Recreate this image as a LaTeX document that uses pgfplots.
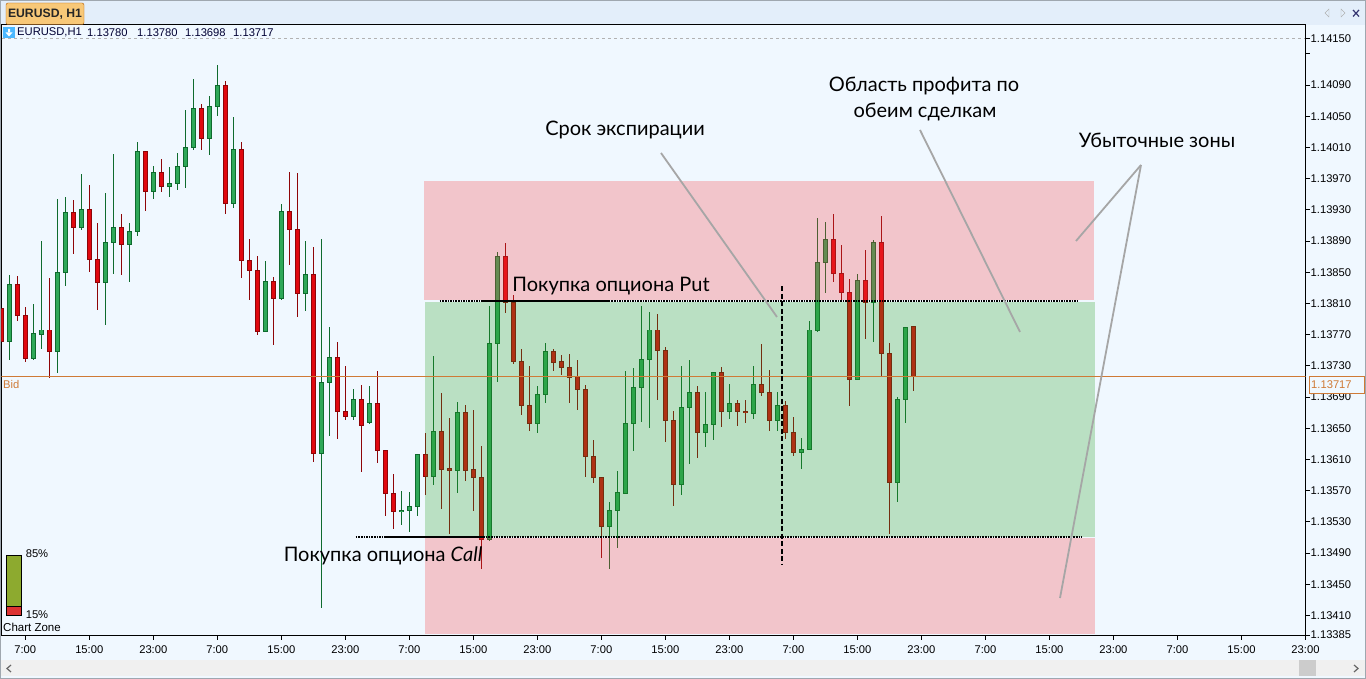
\documentclass[border=0pt]{standalone}
\usepackage{pgfplots}
\usepackage{pgfplotstable}
\usepackage{fontspec}
\pgfplotsset{compat=1.18}
\setmainfont{Liberation Sans}
\newfontfamily\notefont{Lato}
\definecolor{chartbg}{HTML}{F0F8FF}
\definecolor{chrome}{HTML}{E3EEFA}
\definecolor{gfill}{HTML}{2EA858}
\definecolor{gdark}{HTML}{0F6B2E}
\definecolor{rfill}{HTML}{E0080F}
\definecolor{rdark}{HTML}{8E0508}
\definecolor{zonered}{RGB}{251,63,66}
\definecolor{zonegreen}{RGB}{44,160,35}
\definecolor{bidc}{HTML}{CF7A36}
\pgfplotstableread{
x hi top bot lo
1 1.13847 1.13834 1.13761 1.13738
4 1.13810 1.13771 1.13740 1.13737
5 1.13890 1.13776 1.13770 1.13752
7 1.13944 1.13850 1.13748 1.13721
8 1.13946 1.13927 1.13850 1.13833
10 1.13976 1.13931 1.13907 1.13904
13 1.13952 1.13888 1.13837 1.13782
14 1.14002 1.13908 1.13888 1.13848
16 1.13913 1.13902 1.13885 1.13838
17 1.14017 1.14005 1.13902 1.13897
19 1.13986 1.13978 1.13953 1.13944
21 1.13985 1.13964 1.13960 1.13946
22 1.14003 1.13986 1.13964 1.13955
23 1.14058 1.14010 1.13986 1.13958
24 1.14098 1.14060 1.14010 1.14007
26 1.14076 1.14062 1.14021 1.14000
27 1.14116 1.14090 1.14062 1.14050
29 1.14049 1.14008 1.13938 1.13932
33 1.13864 1.13838 1.13774 1.13773
35 1.13938 1.13928 1.13816 1.13814
38 1.13890 1.13847 1.13823 1.13800
40 1.13893 1.13709 1.13618 1.13419
41 1.13780 1.13741 1.13709 1.13640
44 1.13700 1.13687 1.13665 1.13660
46 1.13704 1.13682 1.13658 1.13655
50 1.13569 1.13545 1.13543 1.13526
51 1.13568 1.13550 1.13544 1.13517
52 1.13617 1.13617 1.13550 1.13537
54 1.13743 1.13646 1.13588 1.13577
57 1.13684 1.13670 1.13596 1.13567
61 1.13807 1.13759 1.13508 1.13506
62 1.13876 1.13870 1.13759 1.13709
67 1.13704 1.13693 1.13656 1.13644
68 1.13760 1.13749 1.13693 1.13682
76 1.13555 1.13545 1.13524 1.13470
77 1.13595 1.13568 1.13545 1.13496
78 1.13723 1.13656 1.13567 1.13566
79 1.13727 1.13702 1.13656 1.13621
80 1.13807 1.13738 1.13702 1.13658
81 1.13799 1.13776 1.13738 1.13650
85 1.13730 1.13677 1.13578 1.13564
86 1.13737 1.13696 1.13677 1.13604
88 1.13697 1.13655 1.13644 1.13626
89 1.13722 1.13722 1.13655 1.13635
91 1.13707 1.13682 1.13671 1.13662
94 1.13730 1.13706 1.13669 1.13662
97 1.13697 1.13679 1.13660 1.13647
100 1.13637 1.13623 1.13619 1.13598
101 1.13788 1.13776 1.13623 1.13623
102 1.13920 1.13863 1.13775 1.13773
103 1.13914 1.13892 1.13863 1.13824
107 1.13848 1.13840 1.13713 1.13712
109 1.13891 1.13888 1.13811 1.13760
112 1.13690 1.13687 1.13581 1.13555
113 1.13780 1.13779 1.13687 1.13657
}\greencandles
\pgfplotstableread{
x hi top bot lo
0 1.13803 1.13803 1.13761 1.13761
2 1.13845 1.13834 1.13794 1.13787
3 1.13806 1.13795 1.13740 1.13735
6 1.13843 1.13776 1.13748 1.13715
9 1.13943 1.13927 1.13907 1.13873
11 1.13962 1.13931 1.13866 1.13850
12 1.13913 1.13867 1.13837 1.13802
15 1.13925 1.13908 1.13885 1.13847
18 1.14006 1.14005 1.13953 1.13929
20 1.13995 1.13978 1.13960 1.13953
25 1.14066 1.14060 1.14021 1.14007
28 1.14095 1.14090 1.13938 1.13925
30 1.14017 1.14008 1.13865 1.13843
31 1.13893 1.13865 1.13852 1.13815
32 1.13871 1.13852 1.13774 1.13770
34 1.13844 1.13838 1.13816 1.13757
36 1.13979 1.13928 1.13905 1.13859
37 1.13977 1.13905 1.13823 1.13793
39 1.13882 1.13847 1.13618 1.13607
42 1.13761 1.13741 1.13672 1.13636
43 1.13730 1.13672 1.13665 1.13661
45 1.13705 1.13687 1.13653 1.13594
47 1.13723 1.13682 1.13621 1.13605
48 1.13621 1.13621 1.13566 1.13537
49 1.13591 1.13567 1.13543 1.13521
53 1.13644 1.13617 1.13588 1.13564
55 1.13695 1.13646 1.13597 1.13547
56 1.13663 1.13598 1.13596 1.13514
58 1.13680 1.13670 1.13596 1.13583
59 1.13673 1.13597 1.13587 1.13544
60 1.13627 1.13587 1.13508 1.13470
63 1.13887 1.13870 1.13811 1.13798
64 1.13821 1.13811 1.13735 1.13733
65 1.13752 1.13736 1.13679 1.13667
66 1.13730 1.13679 1.13656 1.13646
69 1.13752 1.13749 1.13734 1.13724
70 1.13744 1.13735 1.13728 1.13718
71 1.13745 1.13728 1.13715 1.13683
72 1.13738 1.13716 1.13700 1.13673
73 1.13705 1.13700 1.13614 1.13588
74 1.13635 1.13614 1.13587 1.13580
75 1.13587 1.13587 1.13524 1.13484
82 1.13797 1.13776 1.13750 1.13686
83 1.13754 1.13750 1.13660 1.13633
84 1.13672 1.13660 1.13578 1.13550
87 1.13704 1.13696 1.13644 1.13612
90 1.13728 1.13722 1.13671 1.13652
92 1.13686 1.13682 1.13671 1.13653
93 1.13686 1.13672 1.13670 1.13657
95 1.13758 1.13706 1.13696 1.13691
96 1.13725 1.13696 1.13660 1.13647
98 1.13685 1.13679 1.13644 1.13636
99 1.13665 1.13645 1.13619 1.13614
104 1.13925 1.13892 1.13848 1.13838
105 1.13885 1.13849 1.13824 1.13814
106 1.13842 1.13824 1.13713 1.13678
108 1.13879 1.13840 1.13811 1.13764
110 1.13922 1.13888 1.13746 1.13716
111 1.13760 1.13746 1.13581 1.13514
114 1.13780 1.13780 1.13717 1.13698
}\redcandles
% wick, dark body outline, coloured body
\newcommand{\candles}[3]{%
  \addplot[only marks,mark=*,mark size=0pt,mark options={draw=none,fill=none},error bars/.cd,y dir=both,y explicit,error mark=none,error mark options={draw=none,fill=none},error bar style={line width=1pt,color=#2}]
    table[x=x,y=top,y error plus expr=\thisrow{hi}-\thisrow{top},y error minus expr=\thisrow{top}-\thisrow{lo}] {#1};
  \addplot[only marks,mark=*,mark size=0pt,mark options={draw=none,fill=none},error bars/.cd,y dir=both,y explicit,error mark=none,error mark options={draw=none,fill=none},error bar style={line width=5pt,color=#2}]
    table[x=x,y=top,y error plus expr=0.0000064,y error minus expr=\thisrow{top}-\thisrow{bot}+0.0000064] {#1};
  \addplot[only marks,mark=*,mark size=0pt,mark options={draw=none,fill=none},error bars/.cd,y dir=both,y explicit,error mark=none,error mark options={draw=none,fill=none},error bar style={line width=3pt,color=#3}]
    table[x=x,y expr=\thisrow{top}-0.0000064,y error plus expr=0,y error minus expr={max(\thisrow{top}-\thisrow{bot}-0.0000128,0)}] {#1};
}
\begin{document}
\begin{tikzpicture}[x=1pt,y=1pt]
\useasboundingbox (0,0) rectangle (1366,679);
% window
\fill[chartbg] (0,0) rectangle (1366,679);
\fill[chrome] (0,654) rectangle (1366,679);
\begin{axis}[
  at={(1.5pt,43pt)},anchor=south west,scale only axis,
  width=1304pt,height=611.5pt,
  xmin=0.03,xmax=163,ymin=1.133837,ymax=1.141677,
  axis background/.style={fill=chartbg},
  axis line style={black,line width=1pt},
  tick style={black,line width=0.8pt},
  tick align=outside,
  major tick length=4pt,
  xtick pos=bottom,ytick pos=right,
  xtick={3,11,...,163},
  xticklabels={7:00,15:00,23:00,7:00,15:00,23:00,7:00,15:00,23:00,7:00,15:00,23:00,7:00,15:00,23:00,7:00,15:00,23:00,7:00,15:00,23:00},
  ytick={1.13385,1.13410,1.13450,1.13490,1.13530,1.13570,1.13610,1.13650,1.13690,1.13730,1.13770,1.13810,1.13850,1.13890,1.13930,1.13970,1.14010,1.14050,1.14090,1.14130,1.14150},
  yticklabels={1.13385,1.13410,1.13450,1.13490,1.13530,1.13570,1.13610,1.13650,1.13690,1.13730,1.13770,1.13810,1.13850,1.13890,1.13930,1.13970,1.14010,1.14050,1.14090,,1.14150},
  tick label style={font=\fontsize{11.2}{13}\selectfont,black},
  yticklabel style={inner sep=0pt,xshift=1pt,anchor=west},
  xticklabel style={inner sep=0pt,yshift=-5pt,anchor=north},
  scaled y ticks=false,
]
\candles{\greencandles}{gdark}{gfill}
\candles{\redcandles}{rdark}{rfill}
% zones
\addplot[draw=none,fill=zonered,fill opacity=0.27] coordinates {(52.84,1.13967)(136.6,1.13967)(136.6,1.138145)(52.84,1.138145)} -- cycle;
\addplot[draw=none,fill=zonegreen,fill opacity=0.27] coordinates {(52.96,1.13812)(136.7,1.13812)(136.7,1.135105)(52.96,1.135105)} -- cycle;
\addplot[draw=none,fill=zonered,fill opacity=0.27] coordinates {(52.96,1.13509)(136.7,1.13509)(136.7,1.13386)(52.96,1.13386)} -- cycle;
% bid
\addplot[bidc,line width=1pt] coordinates {(0,1.13717)(163,1.13717)};
% levels
\addplot[black,line width=1.6pt,densely dotted] coordinates {(54.8,1.13813)(134.6,1.13813)};
\addplot[black,line width=1.6pt] coordinates {(59.96,1.13813)(76.1,1.13813)};
\addplot[black,line width=1.6pt,densely dotted] coordinates {(44.3,1.13511)(135.1,1.13511)};
\addplot[black,line width=1.6pt] coordinates {(47.96,1.13511)(60.3,1.13511)};
\addplot[black,line width=1.6pt,dash pattern=on 5pt off 2.5pt] coordinates {(97.6,1.13832)(97.6,1.13475)};
\end{axis}
% dashed line
\draw[gray!60,dashed,line width=0.5pt] (2,641) -- (1305,641);
% header
\draw[black!30!chrome] (0,678.5) -- (1366,678.5);
\definecolor{tabc}{HTML}{F8C878}
\filldraw[fill=tabc,draw=black!30!orange,rounded corners=2pt] (6,654.5) -- (6,676) -- (84,676) -- (84,654.5) -- cycle;
\node[font=\fontsize{12.2}{14}\selectfont\bfseries,anchor=center,text=black!85] at (45,664.5) {EURUSD, H1};
\fill[blue!40!cyan!70!white] (3,641) rectangle (15,652);
\fill[white] (8,650) rectangle (10,646) (5.5,646.5) -- (12.5,646.5) -- (9,642.5) -- cycle;
\node[font=\fontsize{11.2}{13}\selectfont,anchor=west,inner sep=0pt,text=black!80!blue] at (17,646.5) {EURUSD,H1};
\node[font=\fontsize{11.2}{13}\selectfont,anchor=west,inner sep=0pt,text=black!80!blue] at (87,646.5) {1.13780};
\node[font=\fontsize{11.2}{13}\selectfont,anchor=west,inner sep=0pt,text=black!80!blue] at (137,646.5) {1.13780};
\node[font=\fontsize{11.2}{13}\selectfont,anchor=west,inner sep=0pt,text=black!80!blue] at (185,646.5) {1.13698};
\node[font=\fontsize{11.2}{13}\selectfont,anchor=west,inner sep=0pt,text=black!80!blue] at (233,646.5) {1.13717};
% top right icons
\draw[gray!60] (1329,670) -- (1325,666) -- (1329,662) -- cycle;
\draw[gray!60] (1341,670) -- (1345,666) -- (1341,662) -- cycle;
\draw[black!60!blue!60!gray,line width=1.2pt] (1353,662.5) -- (1359,669) (1353,669) -- (1359,662.5);
% bid labels
\node[font=\fontsize{11.2}{13}\selectfont,text=bidc,anchor=west,inner sep=0pt] at (3,294.5) {Bid};
\filldraw[fill=chartbg,draw=bidc,line width=0.9pt] (1309,286) rectangle (1364.5,302.5);
\node[font=\fontsize{11.2}{13}\selectfont,text=bidc,anchor=west,inner sep=0pt] at (1311,294) {1.13717};
% chart zone
\definecolor{zoneolive}{HTML}{8DAA2F}
\definecolor{zonebar}{HTML}{DD3333}
\filldraw[fill=zoneolive,draw=black,line width=0.7pt] (6.5,73) rectangle (21.5,124);
\filldraw[fill=zonebar,draw=black,line width=0.7pt] (6.5,64) rectangle (21.5,73);
\node[font=\fontsize{11.2}{13}\selectfont,inner sep=0pt] at (37,125) {85\%};
\node[font=\fontsize{11.2}{13}\selectfont,inner sep=0pt] at (37,64.5) {15\%};
\node[font=\fontsize{11.5}{13}\selectfont,inner sep=0pt] at (32,52) {Chart Zone};
% scroll bar
\fill[black!6] (1,3) rectangle (1365,19);
\fill[black!20] (1299,3) rectangle (1316,19);
\draw[black!60,line width=1.2pt] (11,14) -- (7,10.5) -- (11,7);
\draw[black!60,line width=1.2pt] (1354,14) -- (1358,10.5) -- (1354,7);
\draw[black!30!chrome,line width=1pt] (0.5,0.5) rectangle (1365.5,678.5);
% annotation lines
\draw[gray!70,line width=1.8pt] (661,526) -- (777,362);
\draw[gray!70,line width=1.8pt] (920,549) -- (1020,347);
\draw[gray!70,line width=1.8pt] (1141,514) -- (1076,438);
\draw[gray!70,line width=1.8pt] (1141,514) -- (1060,81);
% annotations
\node[font=\notefont\fontsize{20}{22}\selectfont] at (625,548.5) {Срок экспирации};
\node[font=\notefont\fontsize{20}{22}\selectfont] at (924,593) {Область профита по};
\node[font=\notefont\fontsize{20}{22}\selectfont] at (925,567) {обеим сделкам};
\node[font=\notefont\fontsize{20}{22}\selectfont] at (1157,539) {Убыточные зоны};
\node[font=\notefont\fontsize{20}{22}\selectfont] at (611,392.5) {Покупка опциона Put};
\node[font=\notefont\fontsize{20}{22}\selectfont] at (383,123.5) {Покупка опциона {\itshape Call}};
\end{tikzpicture}
\end{document}
